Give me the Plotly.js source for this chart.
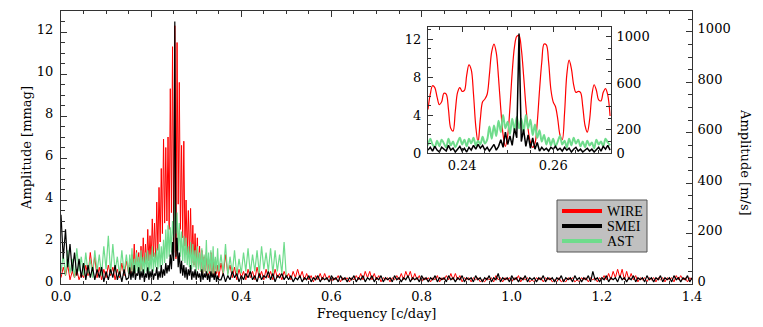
<!DOCTYPE html>
<html>
<head>
<meta charset="utf-8">
<script src="https://cdn.plot.ly/plotly-3.0.1.min.js"></script>
<style>
  html, body { margin: 0; padding: 0; background: #fff; }
  #chart { width: 763px; height: 327px; }
</style>
</head>
<body>
<div id="chart"></div>
<script>
// Amplitude spectra of the three data sets (mmag).
// The main panel is sampled in three pieces: a finer grid around the peak.

// 0.000 - 0.145 c/day
const lowStart = 0.0;
const lowStep = 0.005;
// 0.150 - 0.350 c/day
const peakStart = 0.15;
const peakStep = 0.0025;
// 0.355 - 1.400 c/day (AST stops at 0.5)
const highStart = 0.355;
const highStep = 0.005;

const wireLow = [
  0.3, 0.8, 0.4, 0.9, 0.2, 0.6, 0.3, 0.7, 0.2, 0.5,
  0.3, 0.9, 0.4, 1.5, 0.6, 1.3, 0.3, 0.8, 0.2, 0.7,
  0.3, 0.9, 0.4, 0.8, 0.2, 0.7, 0.3, 1.0, 0.4, 1.1
];
const wirePeak = [
  0.5, 1.2, 0.4, 1.4, 0.6, 1.9, 0.5, 1.6, 0.8, 1.5,
  0.6, 1.8, 0.7, 2.2, 0.9, 1.9, 0.8, 2.6, 1.1, 2.3,
  1.0, 3.1, 1.3, 2.9, 1.2, 3.9, 1.6, 4.6, 2.0, 5.5,
  2.4, 6.9, 2.9, 6.5, 3.0, 7.0, 2.6, 9.3, 3.4, 11.3,
  1.5, 12.3, 1.2, 11.5, 3.8, 9.6, 2.6, 6.6, 2.2, 6.8,
  1.8, 4.0, 1.4, 3.5, 1.2, 3.6, 1.0, 2.8, 0.9, 2.4,
  0.8, 2.2, 0.7, 1.8, 0.6, 1.6, 0.5, 1.3, 0.6, 1.5,
  0.4, 1.2, 0.5, 1.5, 0.4, 1.1, 0.3, 1.2, 0.5, 0.9,
  0.3
];
const wireHigh = [
  1.0, 0.4, 1.4, 0.5, 0.9, 0.3, 0.8, 0.2, 0.7,
  0.3, 0.6, 0.2, 0.7, 0.3, 0.6, 0.2, 0.8, 0.3, 0.6,
  0.2, 0.7, 0.3, 0.6, 0.2, 0.7, 0.3, 0.5, 0.2, 0.6,
  0.3, 0.5, 0.2, 0.6, 0.3, 0.7, 0.3, 0.6, 0.2, 0.5,
  0.2, 0.4, 0.1, 0.4, 0.2, 0.5, 0.2, 0.5, 0.2, 0.4,
  0.1, 0.3, 0.2, 0.4, 0.1, 0.3, 0.2, 0.3, 0.1, 0.3,
  0.2, 0.4, 0.2, 0.5, 0.2, 0.6, 0.3, 0.6, 0.2, 0.5,
  0.2, 0.4, 0.1, 0.3, 0.2, 0.3, 0.1, 0.3, 0.2, 0.4,
  0.2, 0.5, 0.2, 0.6, 0.3, 0.6, 0.2, 0.5, 0.2, 0.4,
  0.1, 0.3, 0.2, 0.3, 0.1, 0.3, 0.2, 0.4, 0.1, 0.3,
  0.2, 0.4, 0.2, 0.5, 0.2, 0.5, 0.2, 0.4, 0.1, 0.3,
  0.2, 0.3, 0.1, 0.3, 0.2, 0.3, 0.1, 0.2, 0.1, 0.3,
  0.2, 0.3, 0.1, 0.4, 0.2, 0.3, 0.1, 0.3, 0.2, 0.3,
  0.1, 0.3, 0.2, 0.4, 0.1, 0.3, 0.2, 0.3, 0.1, 0.2,
  0.1, 0.3, 0.2, 0.3, 0.1, 0.3, 0.2, 0.3, 0.1, 0.2,
  0.1, 0.3, 0.1, 0.2, 0.1, 0.3, 0.2, 0.3, 0.1, 0.2,
  0.1, 0.3, 0.2, 0.3, 0.1, 0.3, 0.2, 0.3, 0.1, 0.3,
  0.2, 0.4, 0.2, 0.5, 0.2, 0.6, 0.3, 0.7, 0.3, 0.7,
  0.2, 0.6, 0.2, 0.5, 0.2, 0.4, 0.1, 0.3, 0.2, 0.3,
  0.1, 0.3, 0.2, 0.3, 0.1, 0.3, 0.2, 0.3, 0.1, 0.3,
  0.2, 0.3, 0.1, 0.4, 0.2, 0.4, 0.2, 0.3, 0.1, 0.3,
  0.2
];

const smeiLow = [
  3.3, 1.2, 2.6, 0.8, 1.9, 0.6, 1.5, 0.4, 1.2, 0.3,
  1.0, 0.2, 0.9, 0.3, 0.8, 0.2, 0.7, 0.3, 0.8, 0.1,
  0.6, 0.2, 0.7, 0.3, 0.9, 0.2, 0.6, 0.1, 0.7, 0.2
];
const smeiPeak = [
  0.3, 0.8, 0.2, 0.6, 0.3, 0.9, 0.2, 0.5, 0.4, 0.8,
  0.2, 0.6, 0.3, 0.7, 0.1, 0.5, 0.3, 0.8, 0.2, 0.6,
  0.3, 0.7, 0.2, 0.5, 0.4, 0.8, 0.2, 0.6, 0.3, 0.9,
  0.3, 0.7, 0.4, 1.0, 0.5, 0.9, 0.6, 1.4, 0.7, 2.0,
  1.1, 12.5, 1.3, 2.2, 0.8, 1.5, 0.5, 1.1, 0.4, 0.9,
  0.3, 0.8, 0.2, 0.7, 0.4, 0.9, 0.2, 0.6, 0.3, 0.7,
  0.2, 0.6, 0.3, 0.5, 0.1, 0.7, 0.2, 0.5, 0.3, 0.6,
  0.2, 0.5, 0.1, 0.6, 0.3, 0.5, 0.2, 0.6, 0.1, 0.4,
  0.2
];
const smeiHigh = [
  0.2, 0.5, 0.1, 0.4, 0.2, 0.6, 0.3, 0.5, 0.1,
  0.4, 0.2, 0.5, 0.3, 0.6, 0.2, 0.4, 0.1, 0.5, 0.2,
  0.4, 0.3, 0.6, 0.2, 0.5, 0.1, 0.4, 0.3, 0.5, 0.2,
  0.4, 0.2, 0.4, 0.1, 0.3, 0.2, 0.4, 0.1, 0.3, 0.2,
  0.4, 0.1, 0.3, 0.2, 0.4, 0.1, 0.3, 0.2, 0.3, 0.1,
  0.4, 0.2, 0.3, 0.1, 0.4, 0.2, 0.3, 0.1, 0.3, 0.2,
  0.4, 0.1, 0.3, 0.2, 0.4, 0.1, 0.3, 0.2, 0.4, 0.1,
  0.3, 0.2, 0.4, 0.1, 0.3, 0.2, 0.3, 0.1, 0.4, 0.2,
  0.3, 0.1, 0.3, 0.2, 0.4, 0.1, 0.3, 0.2, 0.3, 0.1,
  0.4, 0.2, 0.3, 0.1, 0.3, 0.2, 0.4, 0.1, 0.3, 0.2,
  0.3, 0.1, 0.4, 0.2, 0.3, 0.1, 0.3, 0.2, 0.4, 0.1,
  0.3, 0.2, 0.3, 0.1, 0.4, 0.2, 0.3, 0.1, 0.3, 0.2,
  0.4, 0.1, 0.3, 0.2, 0.5, 0.1, 0.3, 0.2, 0.3, 0.1,
  0.4, 0.2, 0.3, 0.1, 0.3, 0.2, 0.4, 0.1, 0.3, 0.2,
  0.3, 0.1, 0.3, 0.2, 0.4, 0.1, 0.3, 0.2, 0.3, 0.1,
  0.3, 0.2, 0.4, 0.1, 0.3, 0.2, 0.3, 0.1, 0.4, 0.2,
  0.3, 0.1, 0.3, 0.2, 0.4, 0.1, 0.6, 0.2, 0.3, 0.1,
  0.3, 0.2, 0.4, 0.1, 0.3, 0.2, 0.3, 0.1, 0.4, 0.2,
  0.3, 0.1, 0.3, 0.2, 0.4, 0.1, 0.3, 0.2, 0.3, 0.1,
  0.4, 0.2, 0.3, 0.1, 0.3, 0.2, 0.4, 0.1, 0.3, 0.2,
  0.3, 0.1, 0.4, 0.2, 0.3, 0.1, 0.3, 0.2, 0.4, 0.1,
  0.3
];

const astLow = [
  0.6, 1.4, 0.4, 1.6, 0.5, 1.2, 0.3, 1.7, 0.6, 1.3,
  0.4, 1.5, 0.5, 1.2, 0.3, 1.6, 0.6, 1.4, 0.4, 1.8,
  0.7, 2.3, 0.5, 1.9, 0.6, 1.3, 0.4, 1.6, 0.5, 1.4
];
const astPeak = [
  0.5, 1.4, 0.6, 1.7, 0.4, 1.2, 0.5, 1.5, 0.6, 1.3,
  0.5, 1.6, 0.6, 1.3, 0.5, 1.5, 0.6, 1.6, 0.4, 1.4,
  0.7, 1.8, 0.6, 1.5, 0.8, 1.7, 0.7, 1.9, 0.8, 1.8,
  0.9, 2.1, 1.0, 2.6, 1.2, 2.8, 1.3, 2.7, 1.5, 3.0,
  2.2, 4.0, 2.4, 3.4, 1.6, 2.9, 1.3, 2.5, 1.1, 2.3,
  1.0, 2.2, 0.9, 1.8, 0.8, 2.0, 0.7, 1.9, 0.8, 1.6,
  0.6, 1.8, 0.7, 1.5, 0.6, 1.7, 0.5, 1.4, 0.6, 2.1,
  0.5, 1.5, 0.6, 1.6, 0.4, 1.8, 0.5, 1.3, 0.6, 1.7,
  0.6
];
const astHigh = [
  1.4, 0.5, 1.9, 0.4, 1.3, 0.5, 1.6, 0.4, 1.2,
  0.5, 1.5, 0.6, 1.7, 0.5, 1.4, 0.6, 1.6, 0.5, 1.8,
  0.7, 1.5, 0.6, 1.7, 0.5, 1.6, 0.6, 1.4, 0.5, 2.0,
  0.3
];

// inset: zoom on the main peak, 0.2325 to 0.2725 c/day
const zoomStart = 0.2325;
const zoomStep = 0.0005;

const wireZoom = [
  4.6, 6.2, 7.1, 6.9, 5.9, 5.1, 5.4, 6.3, 6.2, 4.6,
  2.6, 2.3, 4.4, 6.4, 6.9, 6.5, 6.6, 8.2, 9.3, 8.8,
  6.2, 2.8, 1.1, 3.6, 5.4, 5.7, 6.2, 8.3, 10.7, 11.5,
  10.6, 7.9, 4.6, 1.9, 0.7, 1.8, 4.8, 8.5, 11.2, 12.3,
  12.4, 11.0, 8.2, 5.0, 2.5, 1.1, 0.6, 1.0, 3.2, 6.6,
  9.6, 11.5, 11.4, 9.6, 6.7, 5.4, 4.9, 3.6, 1.9, 1.4,
  4.2, 8.3, 9.8, 8.9, 7.2, 6.4, 6.5, 6.4, 4.9, 2.9,
  2.2, 3.5, 6.1, 7.2, 6.6, 5.6, 5.5, 6.4, 6.8, 6.1,
  3.9
];

const smeiZoom = [
  0.3, 0.6, 0.2, 0.7, 0.3, 0.1, 0.6, 0.4, 0.2, 0.8,
  0.3, 0.5, 0.1, 0.4, 0.7, 0.2, 0.5, 0.1, 0.6, 0.3,
  0.8, 0.4, 0.9, 0.5, 0.8, 0.3, 0.6, 0.2, 0.5, 0.9,
  0.3, 0.7, 1.4, 0.6, 2.2, 0.9, 1.8, 0.8, 2.6, 1.6,
  12.6, 1.2, 2.5, 0.7, 1.9, 0.5, 1.6, 0.4, 1.1, 0.2,
  0.6, 0.3, 0.5, 0.2, 0.6, 0.4, 0.7, 0.3, 0.5, 0.2,
  0.6, 0.3, 0.5, 0.1, 0.4, 0.6, 0.2, 0.4, 0.1, 0.3,
  0.5, 0.2, 0.4, 0.1, 0.3, 0.6, 0.2, 0.7, 0.4, 0.8,
  0.3
];

const astZoom = [
  0.8, 1.5, 0.9, 0.6, 1.3, 0.7, 1.4, 1.0, 0.6, 1.5,
  0.8, 1.2, 0.6, 1.1, 1.6, 0.9, 1.4, 0.7, 1.5, 1.0,
  1.6, 0.8, 1.3, 0.9, 1.7, 1.0, 1.4, 2.8, 1.5, 2.9,
  1.8, 3.4, 2.2, 4.0, 2.6, 3.3, 2.0, 3.6, 2.4, 3.8,
  2.6, 3.6, 2.2, 4.0, 2.6, 3.5, 1.9, 3.0, 1.6, 2.4,
  1.2, 1.9, 0.9, 1.6, 0.8, 1.5, 0.7, 1.2, 1.8, 0.9,
  1.3, 0.6, 1.5, 0.8, 1.6, 1.0, 1.4, 0.7, 1.2, 0.6,
  1.3, 0.8, 1.1, 0.5, 1.4, 0.9, 1.2, 0.7, 1.5, 1.1,
  0.8
];

const seriesNames = ['WIRE', 'SMEI', 'AST'];
const seriesColors = ['#ff0000', '#000000', '#6fdc8c'];

function freqs(start, step, n) {
  return Array.from({length: n}, (_, i) => +(start + i * step).toFixed(5));
}

function joinPieces(low, peak, high) {
  return {
    x: freqs(lowStart, lowStep, low.length)
      .concat(freqs(peakStart, peakStep, peak.length))
      .concat(freqs(highStart, highStep, high.length)),
    y: low.concat(peak, high)
  };
}

const wireMain = joinPieces(wireLow, wirePeak, wireHigh);
const smeiMain = joinPieces(smeiLow, smeiPeak, smeiHigh);
const astMain = joinPieces(astLow, astPeak, astHigh);
const xZoom = freqs(zoomStart, zoomStep, wireZoom.length);

const axisColor = '#333';
const tickFont = {family: 'DejaVu Serif, serif', size: 13, color: '#000'};
const legendFont = {family: 'Liberation Serif, serif', size: 14, color: '#000'};

const traces = [
  // main panel
  {x: wireMain.x, y: wireMain.y, xaxis: 'x', yaxis: 'y', mode: 'lines',
   line: {color: seriesColors[0], width: 1}},
  {x: astMain.x, y: astMain.y, xaxis: 'x', yaxis: 'y', mode: 'lines',
   line: {color: seriesColors[2], width: 1.2}},
  {x: smeiMain.x, y: smeiMain.y, xaxis: 'x', yaxis: 'y', mode: 'lines',
   line: {color: seriesColors[1], width: 1.2}},
  // inset
  {x: xZoom, y: wireZoom, xaxis: 'x2', yaxis: 'y3', mode: 'lines',
   line: {color: seriesColors[0], width: 1.2, shape: 'spline'}},
  {x: xZoom, y: astZoom, xaxis: 'x2', yaxis: 'y3', mode: 'lines',
   line: {color: seriesColors[2], width: 2, shape: 'spline'}},
  {x: xZoom, y: smeiZoom, xaxis: 'x2', yaxis: 'y3', mode: 'lines',
   line: {color: seriesColors[1], width: 1.5}},
  // empty traces that keep the two right-hand axes alive
  {x: [null], y: [null], xaxis: 'x', yaxis: 'y2', mode: 'lines'},
  {x: [null], y: [null], xaxis: 'x2', yaxis: 'y4', mode: 'lines'}
];

function baseAxis(extra) {
  return Object.assign({
    showline: true, linecolor: axisColor, linewidth: 1,
    ticks: 'inside', tickcolor: axisColor, tickwidth: 1,
    showgrid: false, zeroline: false, tickfont: tickFont,
    fixedrange: true
  }, extra);
}

// boxed legend drawn by hand, IDL style (pixel spots turned into paper units)
const plotLeft = 61, plotWidth = 631, plotBottom = 284, plotHeight = 273;
const px = v => (v - plotLeft) / plotWidth;
const py = v => (plotBottom - v) / plotHeight;

const shapes = [{
  type: 'rect', xref: 'paper', yref: 'paper',
  x0: px(557), x1: px(647), y0: py(252), y1: py(200),
  fillcolor: '#c0c0c0', line: {color: '#555', width: 1}, layer: 'above'
}];
const annotations = [{
  text: 'Amplitude [m/s]', textangle: 90, font: tickFont,
  xref: 'paper', yref: 'paper', x: px(746), y: py(162),
  xanchor: 'center', yanchor: 'middle', showarrow: false
}];
seriesNames.forEach(function(name, i) {
  const rowY = 211 + i * 15;
  shapes.push({
    type: 'line', xref: 'paper', yref: 'paper', layer: 'above',
    x0: px(562), x1: px(602), y0: py(rowY), y1: py(rowY),
    line: {color: seriesColors[i], width: 4}
  });
  annotations.push({
    text: name, font: legendFont, xref: 'paper', yref: 'paper',
    x: px(605), y: py(rowY), xanchor: 'left', yanchor: 'middle', showarrow: false
  });
});

const layout = {
  width: 763,
  height: 327,
  margin: {l: 61, r: 71, t: 11, b: 43},
  paper_bgcolor: '#fff',
  plot_bgcolor: '#fff',
  font: tickFont,
  hovermode: false,
  showlegend: false,
  xaxis: baseAxis({
    anchor: 'y', range: [0, 1.4], dtick: 0.2, tickformat: '.1f', ticklen: 6,
    mirror: 'ticks',
    minor: {dtick: 0.05, ticklen: 3, ticks: 'inside', tickcolor: axisColor},
    title: {text: 'Frequency [c/day]', font: tickFont, standoff: 6}
  }),
  yaxis: baseAxis({
    anchor: 'x', range: [0, 13], dtick: 2, ticklen: 6, ticklabelstandoff: 4,
    ticklabelshift: -3,
    minor: {dtick: 0.5, ticklen: 4, ticks: 'inside', tickcolor: axisColor},
    title: {text: 'Amplitude [mmag]', font: tickFont, standoff: 2}
  }),
  yaxis2: baseAxis({
    anchor: 'x', overlaying: 'y', side: 'right', range: [0, 1083], dtick: 200, ticklen: 6,
    ticklabelstandoff: 2, ticklabelshift: -3,
    minor: {dtick: 50, ticklen: 4, ticks: 'inside', tickcolor: axisColor}
  }),
  xaxis2: baseAxis({
    anchor: 'y3', domain: [0.5816, 0.8716], range: [0.2325, 0.2727],
    tickvals: [0.24, 0.26], tickformat: '.2f', ticklen: 5, mirror: 'ticks',
    minor: {dtick: 0.005, ticklen: 3, ticks: 'inside', tickcolor: axisColor}
  }),
  yaxis3: baseAxis({
    anchor: 'x2', domain: [0.48, 0.9414], range: [0, 13.3], dtick: 4, ticklen: 5,
    ticklabelstandoff: 3,
    minor: {dtick: 1, ticklen: 3, ticks: 'inside', tickcolor: axisColor}
  }),
  yaxis4: baseAxis({
    anchor: 'x2', overlaying: 'y3', side: 'right', range: [0, 1084],
    tickvals: [0, 200, 400, 600, 800, 1000], ticktext: ['0', '200', '', '600', '', '1000'],
    ticklen: 5, ticklabelstandoff: 2,
    minor: {dtick: 100, ticklen: 3, ticks: 'inside', tickcolor: axisColor}
  }),
  shapes: shapes,
  annotations: annotations
};

Plotly.newPlot('chart', traces, layout, {displayModeBar: false, staticPlot: true});
</script>
</body>
</html>
